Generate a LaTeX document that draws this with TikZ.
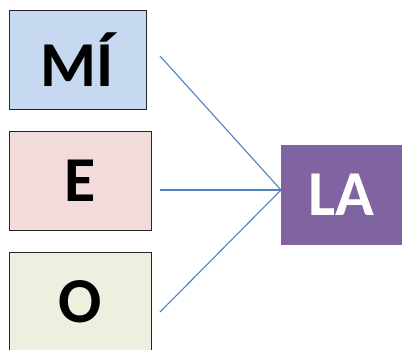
\documentclass[tikz,border=0pt]{standalone}
\usepackage{fontspec}
\setmainfont{Carlito}
\definecolor{miblue}{HTML}{C6D9F1}
\definecolor{epink}{HTML}{F2DCDB}
\definecolor{ogreen}{HTML}{EBF1DE}
\definecolor{lapurple}{HTML}{8064A2}
\definecolor{linkblue}{HTML}{4F81BD}
\begin{document}
\begin{tikzpicture}[x=1pt,y=-1pt,
  wordbox/.style={draw=black!85,line width=0.9pt,inner sep=0pt,font=\fontsize{64}{64}\selectfont\bfseries},
  link/.style={draw=linkblue,line width=1.1pt}]
\useasboundingbox (0,0) rectangle (402,350);
\clip (0,0) rectangle (402,350);
\node[wordbox,fill=miblue,minimum width=137pt,minimum height=99pt] (mi) at (77.5,59.5) {MÍ};
\node[wordbox,fill=epink,minimum width=142pt,minimum height=99pt] (e) at (80,180.5) {E};
\node[wordbox,fill=ogreen,minimum width=142pt,minimum height=99pt] (o) at (80,301.5) {O};
\node[inner sep=0pt,fill=lapurple,text=white,font=\fontsize{64}{64}\selectfont\bfseries,minimum width=121pt,minimum height=100pt] (la) at (341.5,195) {LA};
\coordinate (mi-end) at (160,56);
\coordinate (e-end) at (160,190);
\coordinate (o-end) at (160,312);
\coordinate (la-in) at (281,190);
\draw[link] (mi-end) -- (la-in);
\draw[link] (e-end) -- (la-in);
\draw[link] (o-end) -- (la-in);
\end{tikzpicture}
\end{document}
